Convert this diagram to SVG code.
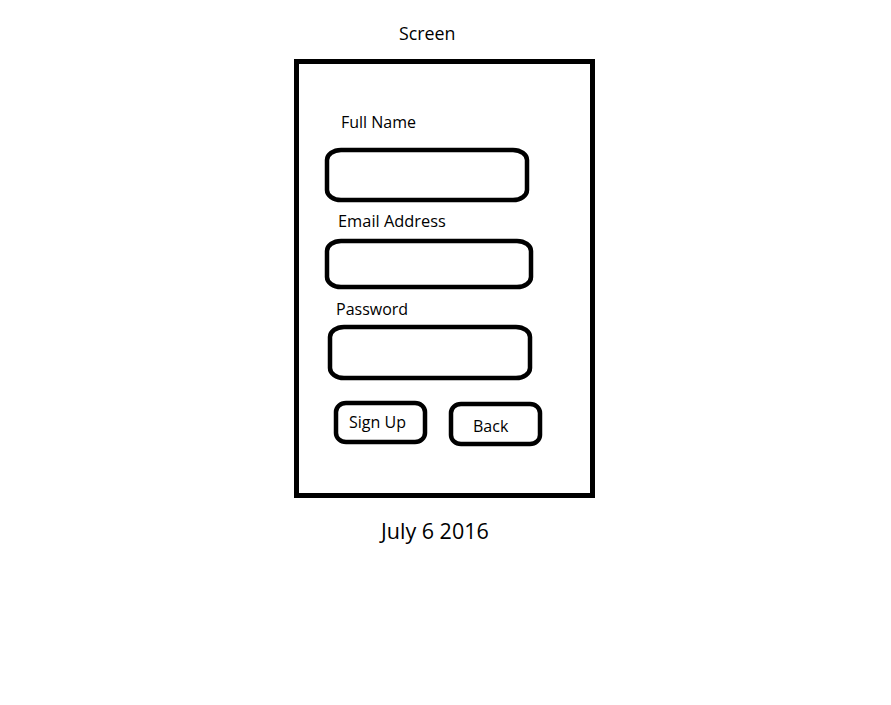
<svg xmlns="http://www.w3.org/2000/svg" width="891" height="705" viewBox="0 0 891 705">
<style>
.t{font-family:"Open Sans","Noto Sans","Liberation Sans",sans-serif;font-size:16px;fill:#000}
.b{fill:none;stroke:#000;stroke-width:4.5}
</style>
<rect width="891" height="705" fill="#fff"/>
<g id="title"><text class="t" x="399" y="40" style="font-size:17.8px">Screen</text></g>
<g id="screen"><rect x="296.5" y="61.5" width="296" height="434" fill="none" stroke="#000" stroke-width="5"/></g>
<g id="fullname">
<text class="t" x="341" y="128">Full Name</text>
<rect class="b" x="327" y="150" width="200" height="50" rx="14" ry="10"/>
</g>
<g id="email">
<text class="t" x="338" y="227" style="font-size:16.4px">Email Address</text>
<rect class="b" x="327" y="241" width="204" height="46" rx="14" ry="10"/>
</g>
<g id="password">
<text class="t" x="336" y="315">Password</text>
<rect class="b" x="330" y="327" width="200" height="51" rx="14" ry="10"/>
</g>
<g id="signup">
<rect class="b" x="336" y="403" width="89" height="39" rx="10" ry="9"/>
<text class="t" x="349" y="428">Sign Up</text>
</g>
<g id="back">
<rect class="b" x="451" y="404" width="89" height="40" rx="10" ry="9"/>
<text class="t" x="473" y="432">Back</text>
</g>
<g id="date"><text class="t" x="381" y="539" style="font-size:21.5px">July 6 2016</text></g>
<g id="connectors"/>
</svg>
